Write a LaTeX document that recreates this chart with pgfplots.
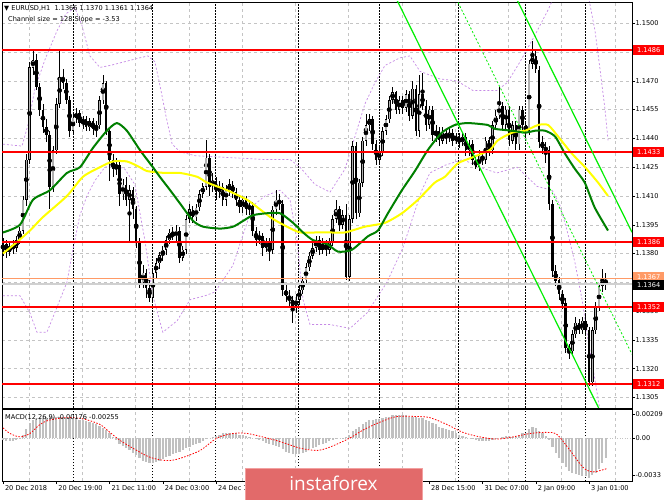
\documentclass[border=0pt]{standalone}
\usepackage{fontspec}
\setmainfont{DejaVu Sans}
\newfontfamily\wmfont{Open Sans}
\usepackage{pgfplots}
\usepackage{pgfplotstable}
\pgfplotsset{compat=1.18}

\definecolor{mared}{HTML}{FF0000}
\definecolor{magreen}{HTML}{008000}
\definecolor{mayellow}{HTML}{FFFF00}
\definecolor{chan}{HTML}{00EE00}
\definecolor{band}{HTML}{C68AE6}
\definecolor{gridc}{HTML}{C4C4C4}
\definecolor{histc}{HTML}{C0C0C0}
\definecolor{bullc}{HTML}{B0B0B0}
\definecolor{askc}{HTML}{FF9A66}
\definecolor{bidc}{HTML}{D0D0D0}
\definecolor{wm}{HTML}{E26A6A}
\definecolor{wmedge}{HTML}{F2A0A0}

\newcommand\lbl{\fontsize{6.6}{7.5}\selectfont}

% EURUSD H1 candles: bar, open, high, low, close
\pgfplotstableread{
n o h l c
0 1.1382 1.1388 1.1379 1.1385
1 1.1385 1.1387 1.1378 1.1381
2 1.1381 1.1386 1.1379 1.1384
3 1.1384 1.1387 1.1380 1.1383
4 1.1383 1.1389 1.1381 1.1387
5 1.1387 1.1394 1.1385 1.1392
6 1.1392 1.1410 1.1390 1.1408
7 1.1408 1.1432 1.1405 1.1429
8 1.1429 1.1480 1.1427 1.1477
9 1.1477 1.1486 1.1473 1.1481
10 1.1481 1.1484 1.1465 1.1467
11 1.1467 1.1469 1.1452 1.1455
12 1.1455 1.1458 1.1443 1.1446
13 1.1446 1.1450 1.1438 1.1442
14 1.1442 1.1444 1.1403 1.1415
15 1.1415 1.1436 1.1412 1.1434
16 1.1434 1.1461 1.1432 1.1458
17 1.1458 1.1486 1.1456 1.1472
18 1.1472 1.1476 1.1466 1.1469
19 1.1469 1.1471 1.1458 1.1460
20 1.1460 1.1462 1.1441 1.1444
21 1.1444 1.1454 1.1442 1.1451
22 1.1451 1.1456 1.1448 1.1453
23 1.1453 1.1455 1.1446 1.1448
24 1.1448 1.1452 1.1445 1.1450
25 1.1450 1.1452 1.1444 1.1446
26 1.1446 1.1451 1.1444 1.1449
27 1.1449 1.1451 1.1442 1.1445
28 1.1445 1.1449 1.1441 1.1447
29 1.1447 1.1462 1.1445 1.1460
30 1.1460 1.1473 1.1458 1.1469
31 1.1469 1.1470 1.1442 1.1444
32 1.1444 1.1446 1.1418 1.1429
33 1.1429 1.1432 1.1420 1.1424
34 1.1424 1.1430 1.1421 1.1426
35 1.1426 1.1428 1.1405 1.1411
36 1.1411 1.1419 1.1408 1.1416
37 1.1416 1.1420 1.1405 1.1408
38 1.1408 1.1416 1.1386 1.1413
39 1.1413 1.1415 1.1398 1.1403
40 1.1403 1.1405 1.1383 1.1386
41 1.1386 1.1388 1.1362 1.1365
42 1.1365 1.1374 1.1362 1.1370
43 1.1370 1.1372 1.1357 1.1362
44 1.1362 1.1366 1.1355 1.1357
45 1.1357 1.1372 1.1355 1.1370
46 1.1370 1.1378 1.1367 1.1375
47 1.1375 1.1381 1.1372 1.1379
48 1.1379 1.1384 1.1376 1.1382
49 1.1382 1.1389 1.1379 1.1387
50 1.1387 1.1393 1.1385 1.1391
51 1.1391 1.1394 1.1387 1.1389
52 1.1389 1.1395 1.1386 1.1392
53 1.1392 1.1394 1.1375 1.1378
54 1.1378 1.1384 1.1376 1.1382
55 1.1382 1.1400 1.1380 1.1398
56 1.1398 1.1406 1.1396 1.1403
57 1.1403 1.1405 1.1396 1.1399
58 1.1399 1.1406 1.1397 1.1404
59 1.1404 1.1413 1.1402 1.1411
60 1.1411 1.1417 1.1409 1.1415
61 1.1415 1.1439 1.1413 1.1430
62 1.1430 1.1432 1.1410 1.1415
63 1.1415 1.1422 1.1412 1.1418
64 1.1418 1.1420 1.1408 1.1412
65 1.1412 1.1418 1.1409 1.1415
66 1.1415 1.1417 1.1405 1.1408
67 1.1408 1.1416 1.1405 1.1413
68 1.1413 1.1419 1.1410 1.1416
69 1.1416 1.1418 1.1409 1.1412
70 1.1412 1.1414 1.1405 1.1408
71 1.1408 1.1410 1.1401 1.1404
72 1.1404 1.1410 1.1401 1.1408
73 1.1408 1.1410 1.1400 1.1403
74 1.1403 1.1408 1.1400 1.1405
75 1.1405 1.1407 1.1389 1.1392
76 1.1392 1.1394 1.1384 1.1387
77 1.1387 1.1392 1.1385 1.1389
78 1.1389 1.1391 1.1379 1.1383
79 1.1383 1.1388 1.1381 1.1386
80 1.1386 1.1388 1.1376 1.1382
81 1.1382 1.1405 1.1380 1.1403
82 1.1403 1.1413 1.1400 1.1408
83 1.1408 1.1411 1.1403 1.1406
84 1.1406 1.1408 1.1358 1.1361
85 1.1361 1.1364 1.1355 1.1358
86 1.1358 1.1361 1.1352 1.1356
87 1.1356 1.1358 1.1344 1.1353
88 1.1353 1.1359 1.1349 1.1356
89 1.1356 1.1364 1.1353 1.1361
90 1.1361 1.1368 1.1359 1.1366
91 1.1366 1.1375 1.1364 1.1373
92 1.1373 1.1381 1.1371 1.1379
93 1.1379 1.1386 1.1377 1.1383
94 1.1383 1.1389 1.1381 1.1387
95 1.1387 1.1389 1.1379 1.1382
96 1.1382 1.1388 1.1380 1.1385
97 1.1385 1.1387 1.1379 1.1382
98 1.1382 1.1388 1.1380 1.1386
99 1.1386 1.1400 1.1384 1.1398
100 1.1398 1.1408 1.1396 1.1403
101 1.1403 1.1405 1.1392 1.1395
102 1.1395 1.1403 1.1393 1.1400
103 1.1400 1.1406 1.1366 1.1368
104 1.1368 1.1400 1.1366 1.1398
105 1.1398 1.1439 1.1396 1.1436
106 1.1436 1.1438 1.1398 1.1401
107 1.1401 1.1419 1.1399 1.1417
108 1.1417 1.1441 1.1415 1.1439
109 1.1439 1.1453 1.1436 1.1447
110 1.1447 1.1453 1.1444 1.1450
111 1.1450 1.1452 1.1434 1.1437
112 1.1437 1.1439 1.1426 1.1429
113 1.1429 1.1436 1.1426 1.1433
114 1.1433 1.1446 1.1431 1.1444
115 1.1444 1.1452 1.1442 1.1450
116 1.1450 1.1462 1.1448 1.1460
117 1.1460 1.1467 1.1458 1.1464
118 1.1464 1.1465 1.1453 1.1455
119 1.1455 1.1462 1.1453 1.1460
120 1.1460 1.1462 1.1453 1.1456
121 1.1456 1.1465 1.1454 1.1463
122 1.1463 1.1465 1.1449 1.1452
123 1.1452 1.1470 1.1450 1.1466
124 1.1466 1.1468 1.1441 1.1444
125 1.1444 1.1473 1.1441 1.1463
126 1.1463 1.1474 1.1455 1.1457
127 1.1457 1.1460 1.1444 1.1447
128 1.1447 1.1457 1.1445 1.1455
129 1.1455 1.1457 1.1439 1.1442
130 1.1442 1.1447 1.1438 1.1444
131 1.1444 1.1446 1.1436 1.1439
132 1.1439 1.1446 1.1437 1.1443
133 1.1443 1.1445 1.1437 1.1440
134 1.1440 1.1446 1.1438 1.1443
135 1.1443 1.1445 1.1436 1.1439
136 1.1439 1.1443 1.1437 1.1441
137 1.1441 1.1443 1.1435 1.1438
138 1.1438 1.1443 1.1436 1.1441
139 1.1441 1.1443 1.1431 1.1434
140 1.1434 1.1439 1.1431 1.1437
141 1.1437 1.1439 1.1426 1.1429
142 1.1429 1.1431 1.1424 1.1425
143 1.1425 1.1434 1.1423 1.1431
144 1.1431 1.1433 1.1426 1.1429
145 1.1429 1.1441 1.1427 1.1439
146 1.1439 1.1441 1.1431 1.1434
147 1.1434 1.1449 1.1432 1.1447
148 1.1447 1.1455 1.1445 1.1452
149 1.1452 1.1467 1.1450 1.1457
150 1.1457 1.1459 1.1444 1.1447
151 1.1447 1.1457 1.1445 1.1455
152 1.1455 1.1457 1.1436 1.1439
153 1.1439 1.1449 1.1437 1.1447
154 1.1447 1.1449 1.1434 1.1437
155 1.1437 1.1457 1.1434 1.1455
156 1.1455 1.1457 1.1444 1.1447
157 1.1447 1.1449 1.1441 1.1444
158 1.1444 1.1481 1.1442 1.1479
159 1.1479 1.1491 1.1476 1.1483
160 1.1483 1.1486 1.1474 1.1476
161 1.1476 1.1478 1.1435 1.1438
162 1.1438 1.1441 1.1432 1.1435
163 1.1435 1.1438 1.1427 1.1434
164 1.1434 1.1436 1.1403 1.1406
165 1.1406 1.1408 1.1368 1.1371
166 1.1371 1.1374 1.1363 1.1366
167 1.1366 1.1368 1.1356 1.1359
168 1.1359 1.1361 1.1351 1.1354
169 1.1354 1.1357 1.1328 1.1331
170 1.1331 1.1333 1.1325 1.1329
171 1.1329 1.1340 1.1327 1.1338
172 1.1338 1.1347 1.1336 1.1344
173 1.1344 1.1346 1.1338 1.1340
174 1.1340 1.1347 1.1338 1.1345
175 1.1345 1.1348 1.1337 1.1340
176 1.1340 1.1342 1.1311 1.1313
177 1.1313 1.1342 1.1311 1.1340
178 1.1340 1.1355 1.1338 1.1352
179 1.1352 1.1365 1.1350 1.1363
180 1.1363 1.1372 1.1360 1.1366
181 1.1366 1.1370 1.1361 1.1364
}\candles

% MACD main line (histogram)
\pgfplotstableread[row sep=\\]{
n m\\
0 -0.0002\\ 1 -0.0003\\ 2 -0.0003\\ 3 -0.0003\\ 4 -0.0002\\ 5 -0.0001\\ 6 0.0003\\ 7 0.0008\\ 8 0.0013\\ 9 0.0016\\
10 0.0017\\ 11 0.0018\\ 12 0.0018\\ 13 0.0019\\ 14 0.0019\\ 15 0.0019\\ 16 0.0019\\ 17 0.0019\\ 18 0.0019\\ 19 0.0018\\
20 0.0018\\ 21 0.0017\\ 22 0.0017\\ 23 0.0016\\ 24 0.0016\\ 25 0.0015\\ 26 0.0014\\ 27 0.0013\\ 28 0.0012\\ 29 0.0011\\
30 0.0009\\ 31 0.0007\\ 32 0.0004\\ 33 0.0001\\ 34 -0.0002\\ 35 -0.0005\\ 36 -0.0007\\ 37 -0.0009\\ 38 -0.0011\\ 39 -0.0013\\
40 -0.0015\\ 41 -0.0018\\ 42 -0.0020\\ 43 -0.0021\\ 44 -0.0022\\ 45 -0.0022\\ 46 -0.0021\\ 47 -0.0020\\ 48 -0.0019\\ 49 -0.0017\\
50 -0.0016\\ 51 -0.0014\\ 52 -0.0013\\ 53 -0.0012\\ 54 -0.0011\\ 55 -0.0009\\ 56 -0.0008\\ 57 -0.0006\\ 58 -0.0005\\ 59 -0.0004\\
60 -0.0003\\ 61 -0.0001\\ 62 0.0000\\ 63 0.0001\\ 64 0.0002\\ 65 0.0003\\ 66 0.0004\\ 67 0.0004\\ 68 0.0004\\ 69 0.0004\\
70 0.0004\\ 71 0.0003\\ 72 0.0003\\ 73 0.0002\\ 74 0.0001\\ 75 0.0000\\ 76 -0.0001\\ 77 -0.0002\\ 78 -0.0003\\ 79 -0.0004\\
80 -0.0005\\ 81 -0.0006\\ 82 -0.0007\\ 83 -0.0008\\ 84 -0.0010\\ 85 -0.0012\\ 86 -0.0013\\ 87 -0.0014\\ 88 -0.0014\\ 89 -0.0014\\
90 -0.0013\\ 91 -0.0012\\ 92 -0.0010\\ 93 -0.0009\\ 94 -0.0008\\ 95 -0.0006\\ 96 -0.0005\\ 97 -0.0004\\ 98 -0.0003\\ 99 -0.0002\\
100 -0.0001\\ 101 0.0000\\ 102 -0.0001\\ 103 0.0001\\ 104 0.0003\\ 105 0.0006\\ 106 0.0008\\ 107 0.0010\\ 108 0.0012\\ 109 0.0014\\
110 0.0016\\ 111 0.0016\\ 112 0.0017\\ 113 0.0017\\ 114 0.0018\\ 115 0.0019\\ 116 0.0019\\ 117 0.0020\\ 118 0.0020\\ 119 0.0020\\
120 0.0020\\ 121 0.0020\\ 122 0.0019\\ 123 0.0019\\ 124 0.0019\\ 125 0.0018\\ 126 0.0018\\ 127 0.0016\\ 128 0.0015\\ 129 0.0013\\
130 0.0012\\ 131 0.0010\\ 132 0.0009\\ 133 0.0008\\ 134 0.0007\\ 135 0.0006\\ 136 0.0004\\ 137 0.0003\\ 138 0.0002\\ 139 0.0001\\
140 0.0000\\ 141 -0.0001\\ 142 -0.0002\\ 143 -0.0003\\ 144 -0.0003\\ 145 -0.0003\\ 146 -0.0003\\ 147 -0.0002\\ 148 -0.0001\\ 149 0.0000\\
150 0.0001\\ 151 0.0002\\ 152 0.0002\\ 153 0.0001\\ 154 0.0001\\ 155 0.0003\\ 156 0.0004\\ 157 0.0004\\ 158 0.0008\\ 159 0.0010\\
160 0.0009\\ 161 0.0006\\ 162 0.0004\\ 163 0.0002\\ 164 -0.0002\\ 165 -0.0008\\ 166 -0.0013\\ 167 -0.0018\\ 168 -0.0022\\ 169 -0.0026\\
170 -0.0029\\ 171 -0.0031\\ 172 -0.0032\\ 173 -0.0033\\ 174 -0.0034\\ 175 -0.0034\\ 176 -0.0035\\ 177 -0.0033\\ 178 -0.0031\\ 179 -0.0027\\
180 -0.0022\\ 181 -0.0018\\
}\macd

\begin{document}
\begin{tikzpicture}
\useasboundingbox (0pt,0pt) rectangle (665pt,499pt);
\fill[white] (0pt,0pt) rectangle (665pt,499pt);

% ---------- price panel ----------
\begin{axis}[
  at={(2pt,91pt)}, anchor=south west,
  width=630pt, height=406pt, scale only axis,
  xmin=-0.3, xmax=188.9, ymin=1.12995, ymax=1.15111,
  axis line style={black, line width=0.8pt},
  xtick=\empty, scaled y ticks=false,
  ytick={1.1305,1.1320,1.1335,1.1350,1.1365,1.1380,1.1395,1.1410,1.1425,1.1440,1.1455,1.1470,1.1485,1.1500},
  yticklabels={1.1305,1.1320,1.1335,1.1350,,1.1380,1.1395,1.1410,1.1425,1.1440,1.1455,1.1470,,1.1500},
  ytick pos=right, yticklabel pos=right,
  tick align=outside, major tick length=3pt,
  tick style={black, line width=0.5pt},
  yticklabel style={font=\lbl, anchor=west, xshift=-3pt},
  ymajorgrids, grid style={gridc, dash pattern=on 3pt off 3pt, line width=0.5pt},
  clip mode=individual,
]
\pgfplotsinvokeforeach{7.8,23.8,39.8,55.8,71.8,87.8,103.8,119.8,135.8,151.8,167.8,183.8}{
  \draw[gridc, dash pattern=on 3pt off 3pt, line width=0.5pt] (axis cs:#1,1.12995) -- (axis cs:#1,1.15111);}
\pgfplotsinvokeforeach{21.0,44.7,63.7,88.6,112.9,136.6,156.8,174.8}{
  \draw[black, dash pattern=on 1.5pt off 1.5pt, line width=0.6pt] (axis cs:#1,1.12995) -- (axis cs:#1,1.15111);}

% bands
\addplot[band, line width=0.7pt, dash pattern=on 2pt off 2pt] coordinates {
(0,1.1437) (5.7,1.1436) (7.5,1.1447) (9.6,1.1466) (12.6,1.1481) (16.2,1.1496) (18.9,1.1505) (21.6,1.1508)
(23.7,1.1499) (26.1,1.1483) (29.1,1.1477) (32.1,1.1478) (36.6,1.1480) (41.1,1.1482) (43.5,1.1483) (45.6,1.1480)
(47.1,1.1468) (48.9,1.1452) (50.8,1.1437) (53.2,1.1433) (57.7,1.1431) (68.2,1.1430) (78.7,1.1429) (86.2,1.1429)
(89.2,1.1425) (93.7,1.1416) (98.2,1.1412) (102.7,1.1424) (105.7,1.1441) (108.7,1.1458) (111.7,1.1469) (114.7,1.1478)
(119.2,1.1482) (122.2,1.1483) (125.2,1.1475) (131.2,1.1471) (136.3,1.1470) (141.1,1.1465) (148.3,1.1465) (151.4,1.1469)
(155.3,1.1480) (159.8,1.1494) (163.7,1.1507) (165.8,1.1515) (170,1.1540) (174,1.1540) (175.7,1.1515) (177.8,1.1496)
(179.3,1.1476) (180.8,1.1455) (181.7,1.1439)};
\addplot[band, line width=0.7pt, dash pattern=on 2pt off 2pt] coordinates {
(0,1.1358) (5.1,1.1358) (8.1,1.1349) (10.2,1.1339) (13.2,1.1339) (16.2,1.1352) (19.2,1.1365) (21.0,1.1382)
(23.1,1.1400) (25.2,1.1410) (27.6,1.1418) (30.6,1.1425) (33.6,1.1426) (36.6,1.1424) (39.6,1.1416) (42.6,1.1387)
(45.0,1.1358) (48.0,1.1339) (52.3,1.1345) (56.2,1.1356) (60.7,1.1358) (63.7,1.1360) (69.1,1.1374) (72.1,1.1390)
(75.1,1.1405) (78.7,1.1410) (83.2,1.1413) (86.2,1.1408) (88.3,1.1387) (90.1,1.1356) (92.2,1.1343) (98.2,1.1343)
(104.2,1.1341) (109.3,1.1349) (115.3,1.1365) (120.1,1.1383) (123.1,1.1399) (125.8,1.1413) (128.2,1.1422) (132.7,1.1426)
(138.1,1.1429) (143.2,1.1425) (148.3,1.1422) (154.4,1.1425) (160.4,1.1415) (164.9,1.1413) (167.3,1.1405) (169.7,1.1390)
(171.8,1.1375) (173.9,1.1356) (175.7,1.1335) (177.8,1.1314) (179.3,1.1298)};

% candles: wicks, bodies, inner fill of rising bodies
\addplot[black, only marks, mark=none, forget plot,
  error bars/.cd, y dir=both, y explicit, error mark=none,
  error bar style={black, line width=0.7pt}]
  table[x=n, y expr={(\thisrow{h}+\thisrow{l})/2}, y error expr={(\thisrow{h}-\thisrow{l})/2}] {\candles};
\addplot[black, only marks, mark=none, forget plot,
  error bars/.cd, y dir=both, y explicit, error mark=none,
  error bar style={black, line width=2.5pt}]
  table[x=n, y expr={(\thisrow{o}+\thisrow{c})/2}, y error expr={max(abs(\thisrow{c}-\thisrow{o})/2,0.00004)}] {\candles};
\addplot[black, only marks, mark=none, forget plot,
  error bars/.cd, y dir=both, y explicit, error mark=none,
  error bar style={bullc, line width=1.3pt}]
  table[x=n, y expr={(\thisrow{o}+\thisrow{c})/2}, y error expr={(\thisrow{c}>\thisrow{o})*max(abs(\thisrow{c}-\thisrow{o})/2-0.00003,0)}] {\candles};

% moving averages
\addplot[mayellow, line width=2pt, smooth, tension=0.4] coordinates {
(0,1.1380) (4.2,1.1386) (8.1,1.1392) (12.0,1.1399) (19.2,1.1410) (24.0,1.1420) (29.1,1.1425) (33.0,1.1428)
(37.2,1.1428) (41.1,1.1425) (43.2,1.1423) (48.6,1.1422) (53.2,1.1422) (58.3,1.1420) (61.3,1.1417) (67.3,1.1413)
(73.3,1.1408) (77.2,1.1403) (81.1,1.1398) (85.3,1.1394) (89.2,1.1391) (94.3,1.1391) (98.2,1.1391) (102.7,1.1391)
(108.7,1.1394) (114.7,1.1396) (119.8,1.1401) (124.6,1.1408) (129.7,1.1417) (132.7,1.1420) (136.6,1.1427) (140.8,1.1430)
(146.2,1.1434) (148.6,1.1439) (152.9,1.1443) (156.8,1.1444) (160.7,1.1447) (163.7,1.1447) (166.7,1.1441) (170.9,1.1432)
(174.8,1.1425) (178.7,1.1417) (181.7,1.1410)};
\addplot[magreen, line width=2pt, smooth, tension=0.4] coordinates {
(0,1.1391) (5.1,1.1395) (9.0,1.1408) (14.1,1.1413) (19.2,1.1422) (23.1,1.1425) (27.0,1.1435) (31.2,1.1444)
(34.2,1.1448) (37.2,1.1444) (41.1,1.1434) (45.0,1.1425) (47.1,1.1420) (50.2,1.1413) (53.2,1.1406) (57.1,1.1397)
(60.1,1.1394) (65.2,1.1393) (69.1,1.1394) (72.1,1.1397) (75.1,1.1400) (79.3,1.1401) (83.2,1.1401) (87.1,1.1396)
(90.1,1.1391) (93.1,1.1387) (97.3,1.1385) (100.6,1.1381) (104.8,1.1382) (109.6,1.1389) (112.6,1.1392) (115.6,1.1401)
(119.8,1.1413) (123.7,1.1423) (127.6,1.1434) (131.8,1.1443) (135.7,1.1447) (139.6,1.1448) (145.6,1.1447) (147.7,1.1445)
(152.9,1.1444) (156.8,1.1443) (159.8,1.1444) (162.8,1.1444) (165.8,1.1441) (168.8,1.1432) (171.8,1.1424) (174.7,1.1417)
(177.7,1.1404) (181.7,1.1392)};

% horizontal levels
\pgfplotsinvokeforeach{1.1486,1.1433,1.1386,1.1352,1.1312}{
  \draw[mared, line width=1.8pt] (axis cs:-0.3,#1) -- (axis cs:188.9,#1);}
\draw[askc, line width=0.8pt] (axis cs:-0.3,1.1367) -- (axis cs:188.9,1.1367);
\draw[bidc, line width=1.5pt] (axis cs:-0.3,1.1364) -- (axis cs:188.9,1.1364);

% regression channel
\addplot[chan, line width=1.2pt] coordinates {(152,1.15206) (188.9,1.13911)};
\addplot[chan, line width=0.8pt, dash pattern=on 2pt off 2pt] coordinates {(134,1.15202) (188.9,1.13275)};
\addplot[chan, line width=1.2pt] coordinates {(116,1.15202) (188.9,1.12644)};

\coordinate (r1486) at (axis cs:188.9,1.1486);
\coordinate (r1433) at (axis cs:188.9,1.1433);
\coordinate (r1386) at (axis cs:188.9,1.1386);
\coordinate (r1352) at (axis cs:188.9,1.1352);
\coordinate (r1312) at (axis cs:188.9,1.1312);
\coordinate (r1367) at (axis cs:188.9,1.1367);
\coordinate (r1364) at (axis cs:188.9,1.1364);
\end{axis}

% ---------- MACD panel ----------
\begin{axis}[
  at={(2pt,18pt)}, anchor=south west,
  width=630pt, height=72pt, scale only axis,
  xmin=-0.3, xmax=188.9, ymin=-0.003805, ymax=0.002566,
  axis line style={black, line width=0.8pt},
  scaled y ticks=false,
  xtick={0,16,32,48,64,80,96,112,128,144,160,176},
  xticklabels={20 Dec 2018,20 Dec 19:00,21 Dec 11:00,24 Dec 03:00,24 Dec 19:00,,,,28 Dec 15:00,31 Dec 07:00,2 Jan 09:00,3 Jan 01:00},
  xtick pos=bottom,
  xticklabel style={font=\lbl, anchor=north west, xshift=-1.5pt, yshift=1.5pt},
  ytick={-0.0033,0,0.00209},
  yticklabels={-0.0033,0.00,0.00209},
  ytick pos=right, yticklabel pos=right,
  yticklabel style={font=\lbl, anchor=west, xshift=-3pt},
  tick align=outside, major tick length=3pt,
  tick style={black, line width=0.5pt},
  clip mode=individual,
]
\pgfplotsinvokeforeach{7.8,23.8,39.8,55.8,71.8,87.8,103.8,119.8,135.8,151.8,167.8,183.8}{
  \draw[gridc, dash pattern=on 3pt off 3pt, line width=0.5pt] (axis cs:#1,-0.003805) -- (axis cs:#1,0.002566);}
\pgfplotsinvokeforeach{21.0,44.7,63.7,88.6,112.9,136.6,156.8,174.8}{
  \draw[black, dash pattern=on 1.5pt off 1.5pt, line width=0.6pt] (axis cs:#1,-0.003805) -- (axis cs:#1,0.002566);}
\draw[gridc, dash pattern=on 1pt off 1.5pt, line width=0.6pt] (axis cs:-0.3,0) -- (axis cs:188.9,0);
\addplot[histc, ycomb, line width=2.2pt, mark=none] table[x=n, y=m] {\macd};
\addplot[mared, line width=0.8pt, dash pattern=on 1.5pt off 1.5pt, smooth, tension=0.5] coordinates {
(0,0.0009) (2.1,0.0004) (5.1,0.0001) (8.1,0.0004) (11.1,0.0012) (14.1,0.0016) (19.2,0.0018) (24,0.0017)
(29.1,0.0012) (32.1,0.0005) (35.1,-0.0002) (39,-0.0009) (44.1,-0.0017) (49.2,-0.0020) (53.2,-0.0018) (59.2,-0.0011)
(64.3,0.0000) (69.1,0.0004) (73.3,0.0004) (79.3,0.0000) (84.1,-0.0004) (89.2,-0.0009) (94.3,-0.0011) (98.2,-0.0008)
(104.2,0.0000) (108.1,0.0007) (113.2,0.0014) (118.3,0.0019) (124.3,0.0019) (128.2,0.0018) (133.3,0.0012) (138.1,0.0005)
(143.2,0.0001) (148.3,-0.0001) (153.2,0.0001) (158.3,0.0004) (163.4,0.0005) (166.4,0.0003) (170.3,-0.0011) (174.2,-0.0026)
(177.2,-0.0030) (181.4,-0.0027)};
\end{axis}

% ---------- texts and price tags ----------
\node[anchor=west, font=\lbl, inner sep=0pt] at (4pt,491pt) {▼ EURUSD,H1\ \ 1.1366 1.1370 1.1361 1.1364};
\node[anchor=west, font=\lbl, inner sep=0pt] at (8pt,479pt) {Channel size = 128 Slope = -3.53};
\node[anchor=west, font=\lbl, inner sep=0pt] at (5pt,82pt) {MACD(12,26,9) -0.00176 -0.00255};

\tikzset{tag/.style={anchor=west, font=\lbl, text=white, inner xsep=2pt, inner ysep=1pt, minimum height=10pt, minimum width=31pt}}
\node[tag, fill=mared] at ([xshift=1pt]r1486) {1.1486};
\node[tag, fill=mared] at ([xshift=1pt]r1433) {1.1433};
\node[tag, fill=mared] at ([xshift=1pt]r1386) {1.1386};
\node[tag, fill=mared] at ([xshift=1pt]r1352) {1.1352};
\node[tag, fill=mared] at ([xshift=1pt]r1312) {1.1312};
\node[tag, fill=askc] at ([xshift=1pt,yshift=1pt]r1367) {1.1367};
\node[tag, fill=black] at ([xshift=1pt,yshift=-1pt]r1364) {1.1364};

% watermark
\draw[wmedge, fill=wm, line width=1pt] (245pt,-1pt) rectangle (422pt,31pt);
\node[white, font=\wmfont\fontsize{19}{21}\selectfont] at (333.5pt,16pt) {instaforex};
\end{tikzpicture}
\end{document}
